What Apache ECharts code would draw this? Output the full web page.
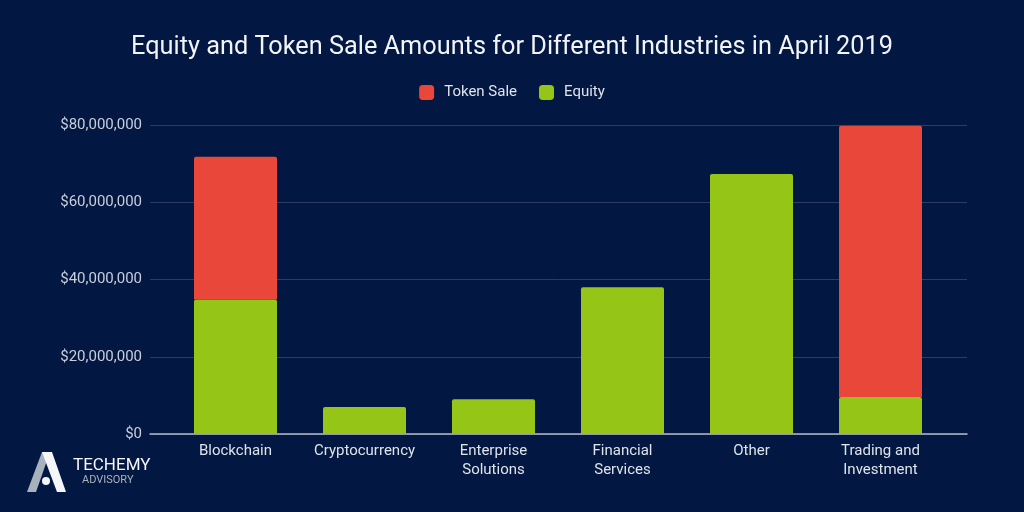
<!DOCTYPE html>
<html>
<head>
<meta charset="utf-8">
<script src="https://cdn.jsdelivr.net/npm/echarts@6/dist/echarts.min.js"></script>
<style>
  html, body { margin: 0; padding: 0; background: #021741; }
  #chart { width: 1024px; height: 512px; }
</style>
</head>
<body>
<div id="chart"></div>
<script>
const industries = [
  "Blockchain",
  "Cryptocurrency",
  "Enterprise\nSolutions",
  "Financial\nServices",
  "Other",
  "Trading and\nInvestment",
];
const equity = [34800000, 7000000, 9000000, 38000000, 67300000, 9600000];
const tokenSale = [37000000, 0, 0, 0, 0, 70200000];
const yTicks = [0, 20000000, 40000000, 60000000, 80000000];

const chart = echarts.init(document.getElementById("chart"));
const font = "Roboto";
const yMax = yTicks[yTicks.length - 1];

const option = {
  backgroundColor: "#021741",
  animation: false,
  title: {
    text: "Equity and Token Sale Amounts for Different Industries in April 2019",
    left: "center",
    top: 30,
    textStyle: { color: "#f2f4f8", fontSize: 25.3, fontWeight: "normal", fontFamily: font },
  },
  legend: {
    data: ["Token Sale", "Equity"],
    top: 80,
    left: "center",
    icon: "roundRect",
    itemWidth: 15,
    itemHeight: 15,
    itemGap: 22,
    textStyle: { color: "#dfe3ea", fontSize: 15, fontFamily: font, padding: [0, 0, 0, 5] },
  },
  grid: [
    { left: 150, right: 57, top: 125, bottom: 78 },
    { left: 171, right: 79, top: 125, bottom: 78 },
  ],
  xAxis: [
    {
      gridIndex: 0,
      type: "value",
      min: 0,
      max: 1,
      axisLine: { show: true, lineStyle: { color: "#b4bac6", width: 1.5 } },
      axisTick: { show: false },
      axisLabel: { show: false },
      splitLine: { show: false },
    },
    {
      gridIndex: 1,
      type: "category",
      data: industries,
      axisLine: { show: false },
      axisTick: { show: false },
      axisLabel: {
        color: "#dfe3ea",
        fontSize: 15,
        fontFamily: font,
        margin: 8,
        lineHeight: 19,
        interval: 0,
      },
    },
  ],
  yAxis: [
    {
      gridIndex: 0,
      type: "value",
      min: 0,
      max: yMax,
      interval: 20000000,
      axisLine: { show: false },
      axisTick: { show: false },
      axisLabel: {
        color: "#c9ceda",
        fontSize: 15,
        fontFamily: font,
        margin: 8,
        formatter: (v) => "$" + v.toLocaleString("en-US"),
      },
      splitLine: { lineStyle: { color: "#2d3c66", width: 1 } },
    },
    {
      gridIndex: 1,
      type: "value",
      min: 0,
      max: yMax,
      interval: 20000000,
      show: false,
      splitLine: { show: false },
    },
  ],
  series: [
    {
      name: "Equity",
      type: "bar",
      stack: "total",
      xAxisIndex: 1,
      yAxisIndex: 1,
      data: equity,
      barWidth: 83,
      itemStyle: { color: "#95c617", borderRadius: [2, 2, 0, 0] },
    },
    {
      name: "Token Sale",
      type: "bar",
      stack: "total",
      xAxisIndex: 1,
      yAxisIndex: 1,
      data: tokenSale,
      barWidth: 83,
      itemStyle: { color: "#e8473a", borderRadius: [2, 2, 0, 0] },
    },
  ],
  graphic: [
    {
      type: "polygon",
      shape: { points: [[27, 492], [42, 452], [50, 452], [36, 492]] },
      style: { fill: "#a9b1bc" },
    },
    {
      type: "polygon",
      shape: { points: [[42, 452], [52, 452], [66, 492], [57, 492]] },
      style: { fill: "#f4f6f9" },
    },
    {
      type: "circle",
      shape: { cx: 46, cy: 481, r: 4 },
      style: { fill: "#f4f6f9" },
    },
    {
      type: "text",
      left: 73,
      top: 457,
      style: {
        text: "TECHEMY",
        fill: "#f4f6f9",
        font: "17px Roboto",
      },
    },
    {
      type: "text",
      left: 82,
      top: 475,
      style: {
        text: "ADVISORY",
        fill: "#aab2be",
        font: "11px Roboto",
      },
    },
  ],
};

chart.setOption(option);
</script>
</body>
</html>
